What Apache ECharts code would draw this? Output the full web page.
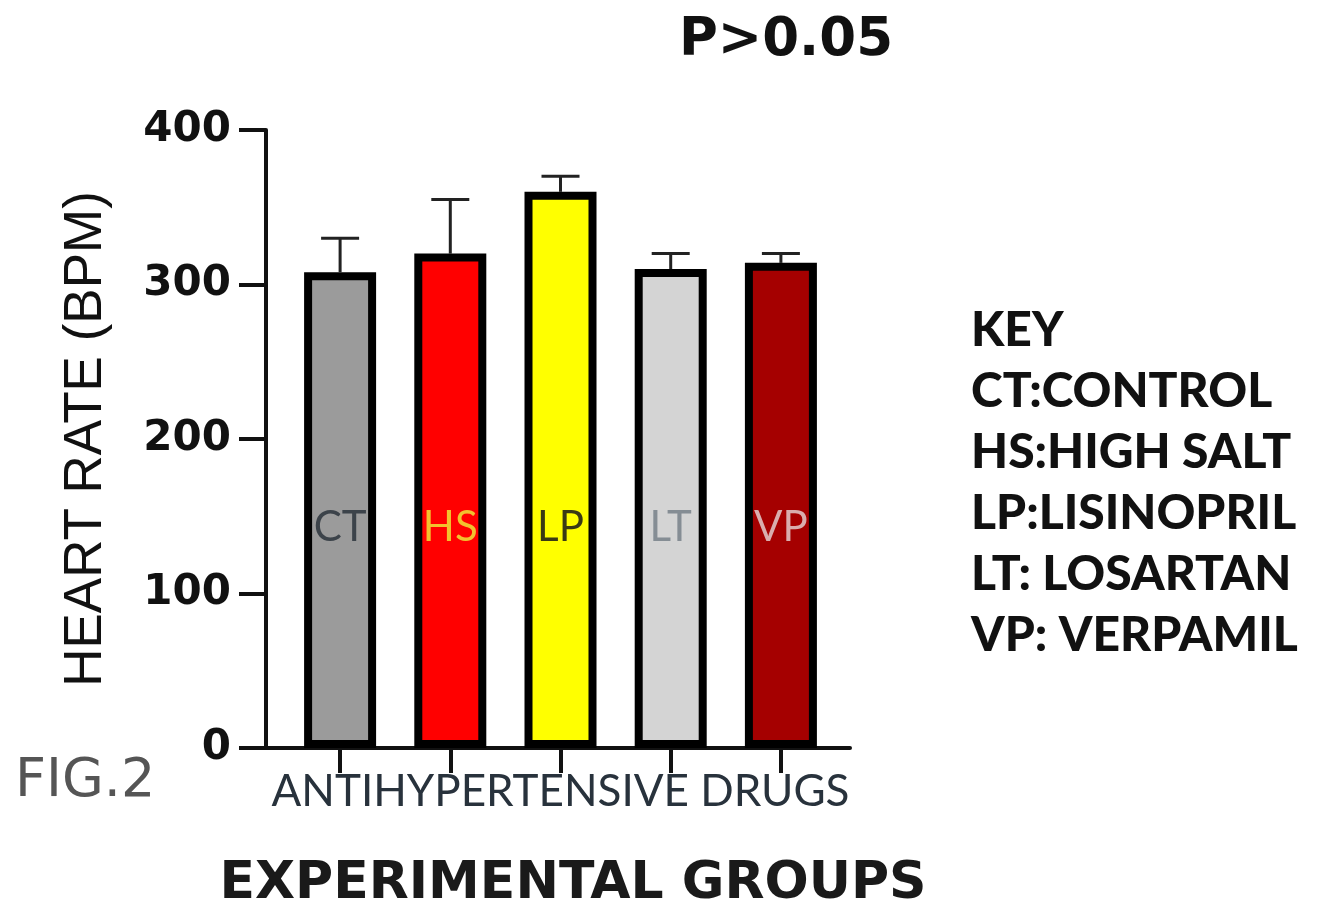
<!DOCTYPE html>
<html>
<head>
<meta charset="utf-8">
<script src="https://cdn.jsdelivr.net/npm/echarts@6/dist/echarts.min.js"></script>
<style>
html,body{margin:0;padding:0;background:#fff;}
#chart{width:1331px;height:903px;}
</style>
</head>
<body>
<div id="chart"></div>
<script>
const categories = ['CT', 'HS', 'LP', 'LT', 'VP'];
const meanValues = [308, 320, 360, 310, 314];
const errorValues = [22, 35, 10, 10, 6];
const barColors = ['#9b9b9b', '#ff0000', '#ffff00', '#d4d4d4', '#a50000'];
const labelColors = ['#3c434a', '#f2c12e', '#3a3a14', '#858d94', '#d9adad'];
const yTicks = [0, 100, 200, 300, 400];
const keyLines = ['KEY', 'CT:CONTROL', 'HS:HIGH SALT', 'LP:LISINOPRIL', 'LT: LOSARTAN', 'VP: VERPAMIL'];
const titleText = 'P>0.05';
const xName = 'ANTIHYPERTENSIVE DRUGS';
const yName = 'HEART RATE (BPM)';
const figText = 'FIG.2';
const groupText = 'EXPERIMENTAL GROUPS';

const chart = echarts.init(document.getElementById('chart'));

const barData = meanValues.map((v, i) => ({
  value: v,
  itemStyle: { color: barColors[i] },
  label: { color: labelColors[i] }
}));
const errData = meanValues.map((v, i) => [i, v, errorValues[i]]);

const option = {
  animation: false,
  backgroundColor: '#ffffff',
  title: [
    { text: titleText, left: 781, top: 10, textAlign: 'center',
      textStyle: { fontFamily: 'DejaVu Sans', fontWeight: 'bold', fontSize: 53, color: '#111' } },
    { text: keyLines.join('\n'), left: 966, top: 295,
      textStyle: { fontFamily: 'Lato', fontWeight: 900, fontSize: 48, lineHeight: 61, color: '#111' } },
    { text: figText, left: 10, top: 750,
      textStyle: { fontFamily: 'DejaVu Sans', fontWeight: 'normal', fontSize: 54, color: '#555' } },
    { text: groupText, left: 568, top: 853, textAlign: 'center',
      textStyle: { fontFamily: 'DejaVu Sans', fontWeight: 'bold', fontSize: 52, color: '#1a1a1a' } }
  ],
  grid: [
    { left: 285, right: 495, top: 130, bottom: 155 },
    { left: 266, right: 481, top: 130, bottom: 155 }
  ],
  xAxis: [
    {
      type: 'category', gridIndex: 0, data: categories,
      axisLine: { show: false },
      axisTick: { show: true, alignWithLabel: true, length: 25, lineStyle: { color: '#111', width: 4 } },
      axisLabel: { show: false },
      name: xName, nameLocation: 'middle', nameGap: 22,
      nameTextStyle: { fontFamily: 'Lato', fontSize: 44, color: '#28323c' }
    },
    {
      type: 'value', gridIndex: 1, min: 0, max: 1,
      axisLine: { show: true, lineStyle: { color: '#111', width: 4 } },
      axisTick: { show: false }, axisLabel: { show: false }, splitLine: { show: false }
    }
  ],
  yAxis: [
    {
      type: 'value', gridIndex: 0, min: 0, max: 400, interval: 100, offset: 19,
      axisLine: { show: true, lineStyle: { color: '#111', width: 4 } },
      axisTick: { show: true, length: 27, lineStyle: { color: '#111', width: 4 } },
      axisLabel: { margin: 35, fontFamily: 'DejaVu Sans', fontWeight: 'bold', fontSize: 42, color: '#111',
        formatter: v => (yTicks.indexOf(v) >= 0 ? String(v) : '') },
      splitLine: { show: false },
      name: yName, nameLocation: 'middle', nameGap: 153, nameRotate: 90,
      nameTextStyle: { fontFamily: 'Liberation Sans', fontSize: 53, color: '#111' }
    },
    {
      type: 'value', gridIndex: 1, min: 0, max: 1, show: false
    }
  ],
  series: [
    {
      type: 'bar', xAxisIndex: 0, yAxisIndex: 0, data: barData,
      barWidth: 72,
      itemStyle: { borderColor: '#000', borderWidth: 8 },
      label: { show: true, position: 'insideBottom', distance: 200, formatter: p => categories[p.dataIndex],
        fontFamily: 'Lato', fontSize: 42 },
      z: 2
    },
    {
      type: 'custom', xAxisIndex: 0, yAxisIndex: 0, data: errData, z: 1,
      renderItem: function (params, api) {
        const x = api.value(0), v = api.value(1), e = api.value(2);
        const base = api.coord([x, v]);
        const top = api.coord([x, v + e]);
        const half = 19;
        return {
          type: 'group',
          children: [
            { type: 'line', shape: { x1: base[0], y1: base[1], x2: top[0], y2: top[1] },
              style: { stroke: '#222', lineWidth: 3 } },
            { type: 'line', shape: { x1: top[0] - half, y1: top[1], x2: top[0] + half, y2: top[1] },
              style: { stroke: '#222', lineWidth: 3 } }
          ]
        };
      }
    }
  ]
};
chart.setOption(option);
</script>
</body>
</html>
